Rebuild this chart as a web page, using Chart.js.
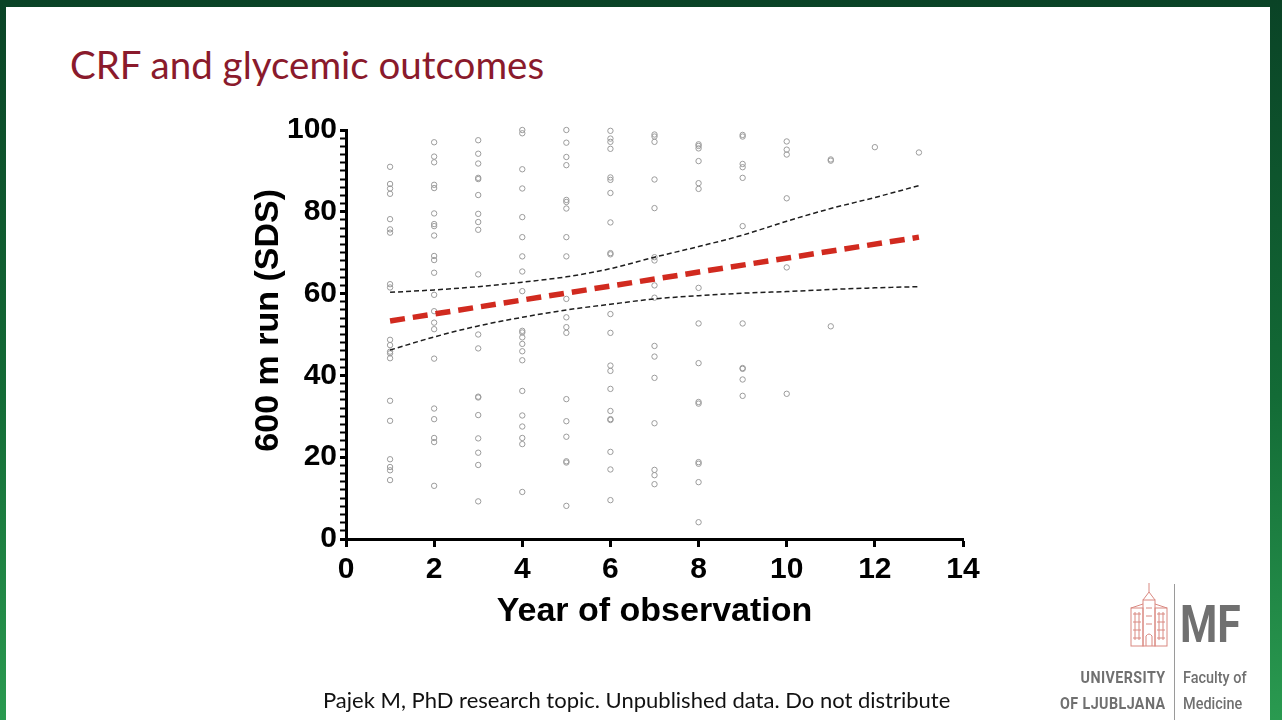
<!DOCTYPE html>
<html>
<head>
<meta charset="utf-8">
<script src="https://cdn.jsdelivr.net/npm/chart.js@4.4.1/dist/chart.umd.min.js"></script>
<style>
  html, body { margin: 0; padding: 0; }
  body {
    width: 1282px; height: 720px; overflow: hidden; position: relative;
    background: linear-gradient(180deg, #0a4326 0%, #136b36 55%, #2a9a50 100%);
  }
  #slide {
    position: absolute; left: 6px; top: 7px; width: 1264px; height: 713px;
    background: #ffffff;
  }
  #title {
    position: absolute; left: 70px; top: 41px; margin: 0;
    font-family: Lato, "Open Sans", sans-serif; font-weight: 400;
    font-size: 38.5px; color: #8a1a2c; white-space: nowrap;
  }
  #footer {
    position: absolute; left: 323px; top: 686px;
    font-family: Lato, "Open Sans", sans-serif; font-size: 22px; color: #111;
    white-space: nowrap;
  }
  #chart-box { position: absolute; left: 0; top: 0; width: 1282px; height: 720px; }
  .logo { position: absolute; font-family: Roboto, "Noto Sans", sans-serif; color: #707070; white-space: nowrap; }
  #mf { left: 1180px; top: 594px; font-size: 52px; font-weight: 700; transform: scaleX(0.82); transform-origin: left top; }
  #uni { right: 116px; top: 664px; font-size: 17px; font-weight: 700; line-height: 26px; text-align: right; letter-spacing: 0.5px; transform: scaleX(0.84); transform-origin: right top; }
  #fac { left: 1183px; top: 664px; font-size: 17px; font-weight: 500; line-height: 26px; transform: scaleX(0.85); transform-origin: left top; }
  #divider { position: absolute; left: 1174px; top: 584px; width: 1px; height: 136px; background: #9a9a9a; }
  #building { position: absolute; left: 1128px; top: 582px; }
</style>
</head>
<body>
<div id="slide"></div>
<h1 id="title">CRF and glycemic outcomes</h1>
<div id="chart-box"><canvas id="chart" width="1282" height="720"></canvas></div>
<div id="footer">Pajek M, PhD research topic. Unpublished data. Do not distribute</div>

<svg id="building" width="42" height="66" viewBox="0 0 42 66" fill="none" stroke="#d98880" stroke-width="1">
  <line x1="21" y1="1" x2="21" y2="10"/>
  <path d="M15 18 L21 10 L27 18"/>
  <rect x="15" y="18" width="12" height="46"/>
  <path d="M3 26 L15 22 M27 22 L39 26"/>
  <rect x="3" y="26" width="12" height="38"/>
  <rect x="27" y="26" width="12" height="38"/>
  <path d="M5 32 h8 M5 40 h8 M5 48 h8 M5 56 h8 M29 32 h8 M29 40 h8 M29 48 h8 M29 56 h8"/>
  <path d="M7 30 v28 M11 30 v28 M31 30 v28 M35 30 v28"/>
  <path d="M18 64 V54 Q21 50 24 54 V64"/>
  <path d="M18 26 h6 M18 34 h6 M18 42 h6"/>
</svg>
<div id="divider"></div>
<div class="logo" id="mf">MF</div>
<div class="logo" id="uni">UNIVERSITY<br>OF LJUBLJANA</div>
<div class="logo" id="fac">Faculty of<br>Medicine</div>

<script>
// 600 m run SDS values per year of observation
const year1 = [91.0, 86.8, 85.7, 84.4, 78.2, 75.7, 74.9, 62.3, 61.5, 48.7, 47.4, 45.8, 45.4, 44.2, 33.8, 28.9, 19.5, 17.6, 16.8, 14.4];
const year2 = [97.0, 93.5, 92.1, 86.6, 85.8, 79.6, 77.0, 76.5, 74.2, 69.2, 68.2, 65.1, 59.7, 55.7, 52.9, 51.3, 44.1, 31.9, 29.3, 24.7, 23.7, 13.0];
const year3 = [97.5, 94.2, 91.8, 88.3, 88.0, 84.1, 79.5, 77.5, 75.6, 64.7, 50.0, 46.6, 34.8, 34.6, 30.3, 24.6, 21.1, 18.1, 9.2];
const year4 = [100.0, 99.2, 90.4, 85.7, 78.7, 73.8, 69.1, 65.4, 60.6, 50.9, 50.5, 49.3, 47.7, 45.9, 43.7, 36.2, 30.2, 27.5, 24.7, 23.2, 11.5];
const year5 = [100.0, 96.9, 93.4, 91.4, 82.9, 82.4, 80.8, 73.8, 69.1, 58.7, 54.2, 51.8, 50.4, 34.2, 28.8, 25.0, 19.0, 18.7, 8.1];
const year6 = [99.8, 97.9, 97.1, 95.4, 88.4, 87.8, 84.6, 77.4, 69.9, 69.6, 55.0, 50.4, 42.4, 41.1, 36.7, 31.3, 29.3, 29.1, 21.3, 17.0, 9.5];
const year7 = [98.9, 98.4, 97.1, 87.9, 80.9, 68.9, 68.1, 62.0, 59.0, 47.2, 44.6, 39.4, 28.3, 16.9, 15.6, 13.4];
const year8 = [96.5, 96.1, 95.5, 92.4, 87.0, 85.6, 61.4, 52.7, 43.0, 33.5, 33.1, 18.8, 18.4, 13.9, 4.1];
const year9 = [98.8, 98.4, 91.7, 90.9, 88.3, 76.5, 52.7, 41.8, 41.6, 39.0, 35.0];
const year10 = [97.2, 95.2, 94.0, 83.3, 66.4, 35.5];
const year11 = [92.8, 92.5, 52.0];
const year12 = [95.8];
const year13 = [94.5];
const pointsByYear = [year1, year2, year3, year4, year5, year6, year7, year8, year9, year10, year11, year12, year13];

// regression line and its 95% band
const fitYears = [1, 13];
const fitValues = [53.3, 73.8];
const bandYears = [1, 2, 3, 4, 5, 6, 7, 8, 9, 10, 11, 12, 13];
const bandUpper = [60.3, 60.9, 61.7, 62.8, 64.1, 66.1, 68.9, 71.5, 74.3, 77.7, 80.8, 83.5, 86.4];
const bandLower = [46.2, 49.4, 52.1, 54.2, 56.0, 57.4, 58.7, 59.5, 60.1, 60.5, 61.0, 61.4, 61.7];

const xTicks = [0, 2, 4, 6, 8, 10, 12, 14];
const yTicks = [0, 20, 40, 60, 80, 100];

const toXY = (xs, ys) => xs.map((x, i) => ({x: x, y: ys[i]}));

const scatterPoints = [];
pointsByYear.forEach((vals, i) => {
    vals.forEach(v => scatterPoints.push({x: i + 1, y: v}));
});

const bold = (size) => ({family: '"Liberation Sans", Arial, sans-serif', size: size, weight: 'bold'});

const myChart = new Chart(document.getElementById('chart'), {
    type: 'scatter',
    data: {
        datasets: [
            {
                data: toXY(fitYears, fitValues),
                showLine: true,
                borderColor: '#d12a1f',
                borderWidth: 5.5,
                borderDash: [15, 8],
                pointRadius: 0
            },
            {
                data: toXY(bandYears, bandUpper),
                showLine: true,
                borderColor: '#1e1e1e',
                borderWidth: 1.5,
                borderDash: [5, 3],
                cubicInterpolationMode: 'monotone',
                pointRadius: 0
            },
            {
                data: toXY(bandYears, bandLower),
                showLine: true,
                borderColor: '#1e1e1e',
                borderWidth: 1.5,
                borderDash: [5, 3],
                cubicInterpolationMode: 'monotone',
                pointRadius: 0
            },
            {
                data: scatterPoints,
                pointStyle: 'circle',
                pointRadius: 2.7,
                pointBorderWidth: 1,
                borderColor: '#9b9b9b',
                backgroundColor: 'rgba(0,0,0,0)',
                clip: false
            }
        ]
    },
    options: {
        responsive: false,
        animation: false,
        events: [],
        layout: {padding: {left: 236, right: 319, top: 130, bottom: 81}},
        plugins: {legend: {display: false}, tooltip: {enabled: false}},
        scales: {
            x: {
                type: 'linear',
                min: 0,
                max: 14,
                afterFit: (scale) => { scale.height = 100; },
                afterBuildTicks: (scale) => { scale.ticks = xTicks.map(v => ({value: v})); },
                ticks: {color: '#000', font: bold(30), padding: 5, maxRotation: 0},
                grid: {drawOnChartArea: false, tickLength: 8, tickWidth: 3, tickColor: '#000'},
                border: {color: '#000', width: 3},
                title: {display: true, text: 'Year of observation', color: '#000', font: bold(34), padding: {top: 0, bottom: 7}}
            },
            y: {
                type: 'linear',
                min: 0,
                max: 100,
                afterFit: (scale) => { scale.width = 110; },
                ticks: {
                    stepSize: 2,
                    autoSkip: false,
                    color: '#000',
                    font: bold(30),
                    padding: 3,
                    callback: (v) => yTicks.includes(v) ? String(v) : ''
                },
                grid: {
                    drawOnChartArea: false,
                    tickLength: 6,
                    tickWidth: (ctx) => yTicks.includes(ctx.tick.value) ? 3 : 2,
                    tickColor: '#000'
                },
                border: {color: '#000', width: 3},
                // leading spaces lift the rotated title a little above the axis centre, as in the figure
                title: {display: true, text: '\u00a0\u00a0\u00a0600 m run (SDS)', color: '#000', font: bold(34), padding: {top: 12, bottom: 0}}
            }
        }
    }
});
</script>
</body>
</html>
